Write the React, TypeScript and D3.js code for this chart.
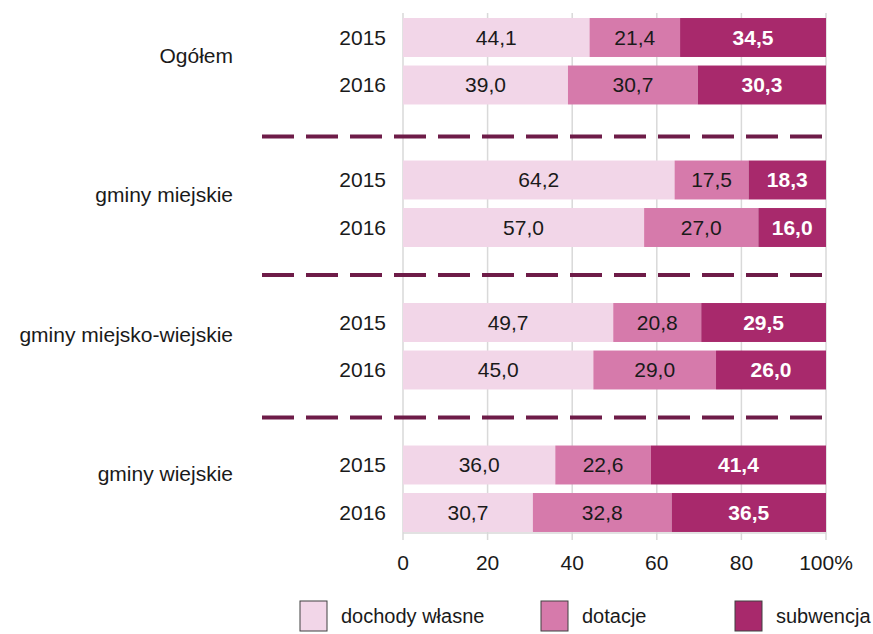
import React from "react";
import * as d3 from "d3";

const groups = ["Ogółem", "gminy miejskie", "gminy miejsko-wiejskie", "gminy wiejskie"];
const years = ["2015", "2016"];
const ownIncome = [44.1, 39.0, 64.2, 57.0, 49.7, 45.0, 36.0, 30.7];
const grants = [21.4, 30.7, 17.5, 27.0, 20.8, 29.0, 22.6, 32.8];
const subsidy = [34.5, 30.3, 18.3, 16.0, 29.5, 26.0, 41.4, 36.5];
const seriesNames = ["dochody własne", "dotacje", "subwencja"];
const xTicks = [0, 20, 40, 60, 80, 100];

const W = 873;
const H = 634;
const FONT = "'Liberation Sans', Arial, sans-serif";
const FS = 21;
const colors = ["#f2d6e8", "#d67aab", "#a8296c"];
const textColors = ["#1a1a1a", "#1a1a1a", "#ffffff"];
const sepColor = "#6e1c48";
const gridColor = "#d9d9d9";

export default function App() {
  const x = d3.scaleLinear().domain([0, 100]).range([403, 826]);
  const slots: string[] = [];
  groups.forEach((g, gi) => {
    years.forEach((y) => slots.push(`${gi}-${y}`));
    if (gi < groups.length - 1) slots.push(`sep-${gi}`);
  });
  const yb = d3.scaleBand<string>().domain(slots).range([13.75, 536.25]).paddingInner(0.18).paddingOuter(0.09);
  const fmt = (v: number) => d3.format(".1f")(v).replace(".", ",");
  const series = [ownIncome, grants, subsidy];
  const stackInput = ownIncome.map((_, i) => ({ a: ownIncome[i], b: grants[i], c: subsidy[i] }));
  const stacked = d3.stack<any>().keys(["a", "b", "c"])(stackInput);
  const axisY = 533;

  return (
    <svg width={W} height={H} style={{ position: "absolute", left: 0, top: 0, background: "#fff" }} fontFamily={FONT}>
      {xTicks.map((t) => (
        <line key={"g" + t} x1={x(t)} x2={x(t)} y1={13} y2={540} stroke={gridColor} strokeWidth={1.5} />
      ))}
      <line x1={x(0)} x2={x(100)} y1={axisY} y2={axisY} stroke={gridColor} strokeWidth={1.5} />
      {xTicks.map((t) => (
        <text key={"t" + t} x={x(t)} y={563} dy="0.35em" textAnchor="middle" fontSize={FS} fill="#1a1a1a">
          {t === 100 ? "100%" : String(t)}
        </text>
      ))}
      {stacked.map((layer, si) =>
        layer.map((d, i) => {
          const gi = Math.floor(i / 2);
          const key = `${gi}-${years[i % 2]}`;
          const y0 = yb(key)!;
          const bw = yb.bandwidth();
          const x0 = x(d[0]);
          const x1 = x(d[1]);
          return (
            <g key={`b${si}-${i}`}>
              <rect x={x0} y={y0} width={x1 - x0} height={bw} fill={colors[si]} />
              <text
                x={(x0 + x1) / 2}
                y={y0 + bw / 2}
                dy="0.35em"
                textAnchor="middle"
                fontSize={FS}
                fontWeight={si === 2 ? "bold" : "normal"}
                fill={textColors[si]}
              >
                {fmt(series[si][i])}
              </text>
            </g>
          );
        })
      )}
      {ownIncome.map((_, i) => {
        const gi = Math.floor(i / 2);
        const key = `${gi}-${years[i % 2]}`;
        return (
          <text key={"y" + i} x={386} y={yb(key)! + yb.bandwidth() / 2} dy="0.35em" textAnchor="end" fontSize={FS} fill="#1a1a1a">
            {years[i % 2]}
          </text>
        );
      })}
      {groups.map((g, gi) => {
        const c = (yb(`${gi}-2015`)! + yb(`${gi}-2016`)! + yb.bandwidth()) / 2;
        return (
          <text key={"gl" + gi} x={233} y={c - 6 - gi * 3} dy="0.35em" textAnchor="end" fontSize={FS} fill="#1a1a1a">
            {g}
          </text>
        );
      })}
      {groups.slice(0, -1).map((_, gi) => {
        const yy = yb(`sep-${gi}`)! + yb.bandwidth() / 2 + (gi === 0 ? 4 : 0);
        return (
          <line key={"s" + gi} x1={262} x2={822} y1={yy} y2={yy} stroke={sepColor} strokeWidth={4} strokeDasharray="32 12" />
        );
      })}
      {seriesNames.map((n, i) => {
        const lx = [300, 541, 735][i];
        return (
          <g key={"l" + i}>
            <rect x={lx} y={601} width={27} height={30} fill={colors[i]} stroke="#404040" strokeWidth={1} />
            <text x={lx + 41} y={616} dy="0.35em" fontSize={20} fill="#1a1a1a">
              {n}
            </text>
          </g>
        );
      })}
    </svg>
  );
}
